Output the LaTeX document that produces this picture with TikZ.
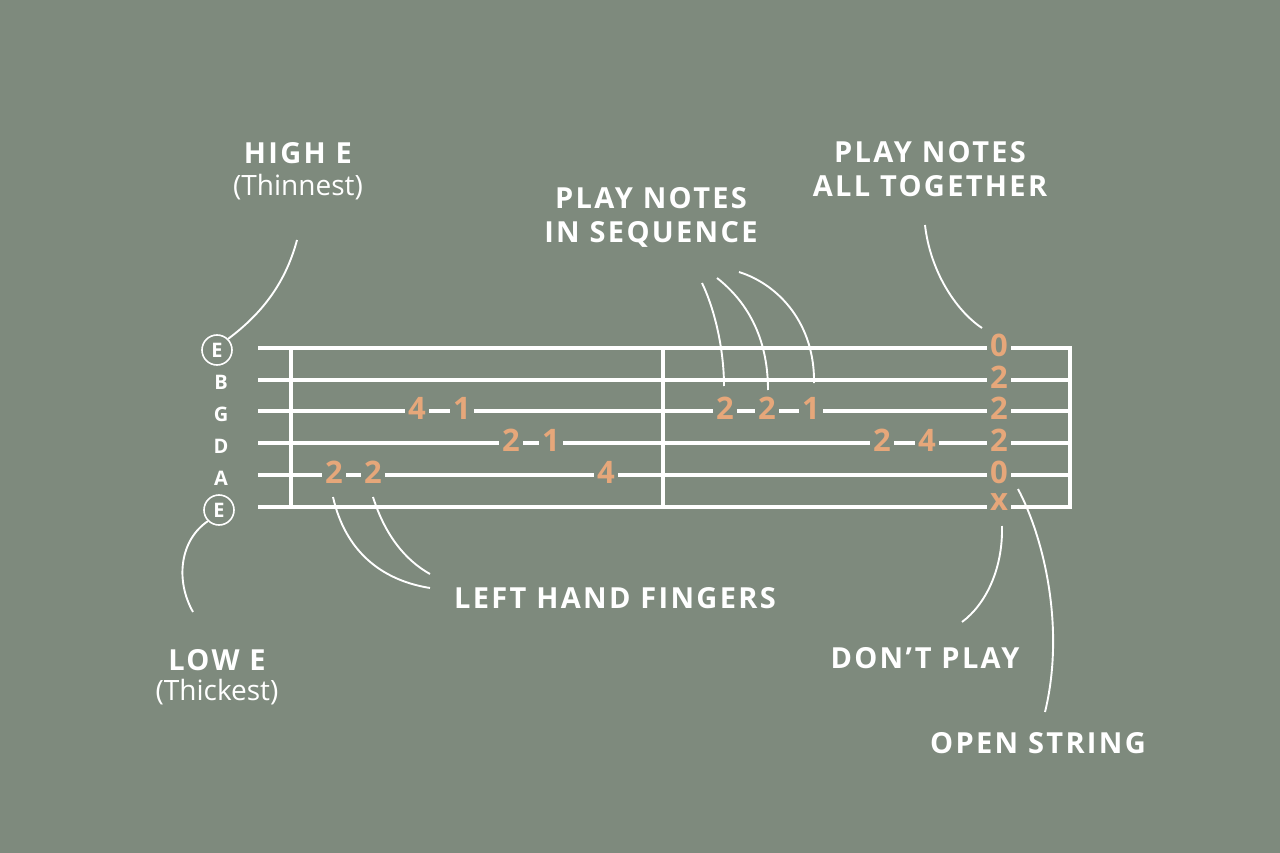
\documentclass[tikz,border=0pt]{standalone}
\usepackage{fontspec}
\setmainfont{Open Sans}
\begin{document}
\definecolor{bg}{HTML}{7E8A7D}
\definecolor{nt}{HTML}{E6A77A}
\begin{tikzpicture}[x=1pt,y=-1pt,
  str/.style={white,line width=3.3pt},
  lead/.style={white,line width=1.9pt},
  num/.style={text=nt,font=\fontsize{31}{31}\selectfont\bfseries,fill=bg,inner xsep=3pt,inner ysep=0pt,yshift=2.5pt},
  lbl/.style={text=white,font=\fontsize{29}{34}\selectfont\bfseries\addfontfeatures{LetterSpace=8},align=center},
  sub/.style={text=white,font=\fontsize{28}{30}\selectfont},
  sn/.style={text=white,font=\fontsize{20}{20}\selectfont\bfseries},
  circ/.style={sn,draw=white,circle,line width=1.6pt,minimum size=30pt,inner sep=0pt}]
\fill[bg] (0,0) rectangle (1280,853);
\useasboundingbox (0,0) rectangle (1280,853);
% strings
\foreach \y in {348,380,411,443,475,507} \draw[str] (258,\y) -- (1070,\y);
\draw[str] (291,348) -- (291,507);
\draw[str] (663,348) -- (663,507);
\draw[str] (1070,346.35) -- (1070,508.65);
% string names
\node[circ] (sE1) at (217,350) {E};
\node[sn] (sB) at (221,382) {B};
\node[sn] (sG) at (221,414) {G};
\node[sn] (sD) at (221,446) {D};
\node[sn] (sA) at (221,478) {A};
\node[circ] (sE6) at (219,510) {E};
% notes
\node[num] (g1) at (417,411) {4};
\node[num] (g2) at (462,411) {1};
\node[num] (d1) at (511,443) {2};
\node[num] (d2) at (551,443) {1};
\node[num] (a1) at (334,475) {2};
\node[num] (a2) at (373,475) {2};
\node[num] (a3) at (606,475) {4};
\node[num] (h1) at (725,411) {2};
\node[num] (h2) at (767,411) {2};
\node[num] (h3) at (811,411) {1};
\node[num] (k1) at (882,443) {2};
\node[num] (k2) at (927,443) {4};
\node[num] (c1) at (999,348) {0};
\node[num] (c2) at (999,380) {2};
\node[num] (c3) at (999,411) {2};
\node[num] (c4) at (999,443) {2};
\node[num] (c5) at (999,475) {0};
\node[num] (c6) at (999,505) {x};
% labels
\node[lbl] (hi) at (298,153) {HIGH E};
\node[sub] (hiS) at (298,187) {(Thinnest)};
\node[lbl] (seq) at (651,217) {PLAY NOTES\\IN SEQUENCE};
\node[lbl] (tog) at (930,169) {PLAY NOTES\\ALL TOGETHER};
\node[lbl] (lhf) at (615,598) {LEFT HAND FINGERS};
\node[lbl] (lo) at (217,660) {LOW E};
\node[sub] (loS) at (217,692) {(Thickest)};
\node[lbl] (dp) at (925,658) {DON’T PLAY};
\node[lbl] (os) at (1038,743) {OPEN STRING};
% leaders
\coordinate (p1) at (297,240);
\draw[lead] (p1) .. controls (285,285) and (260,315) .. (sE1.north east);
\coordinate (p2) at (193,612);
\draw[lead] (p2) .. controls (175,580) and (180,540) .. (sE6.south west);
\coordinate (q1) at (430,588); \coordinate (q2) at (430,574);
\draw[lead] (333,497) .. controls (345,550) and (380,580) .. (q1);
\draw[lead] (373,497) .. controls (385,535) and (405,560) .. (q2);
\draw[lead] (702,283) .. controls (715,310) and (724,350) .. (724,386);
\draw[lead] (717,278) .. controls (745,300) and (768,335) .. (768,390);
\draw[lead] (739,272) .. controls (780,285) and (815,325) .. (814,383);
\draw[lead] (925,225) .. controls (930,270) and (955,310) .. (982,328);
\draw[lead] (1002,526) .. controls (1003,570) and (985,605) .. (962,622);
\draw[lead] (1018,489) .. controls (1045,540) and (1065,630) .. (1045,712);
\end{tikzpicture}
\end{document}
